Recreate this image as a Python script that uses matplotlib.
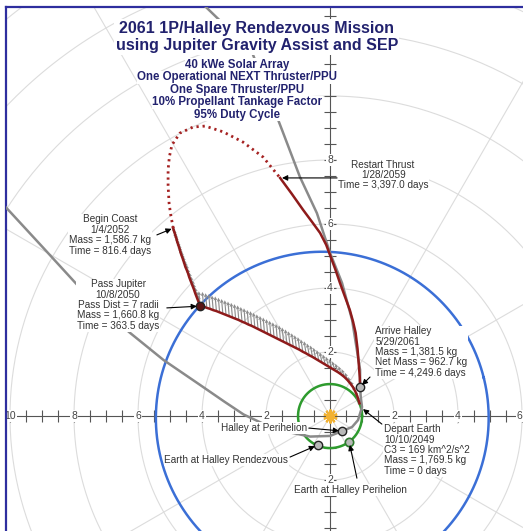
import numpy as np
import matplotlib
matplotlib.use("Agg")
import matplotlib.pyplot as plt

# ---- data (AU, sun at origin) ----
# first thrust arc, listed from Jupiter back to the Earth departure point
out_x = [-4.06, -3.95, -3.85, -3.75, -3.65, -3.55, -3.45, -3.35, -3.25, -3.15, -3.05, -2.95, -2.85,
         -2.75, -2.65, -2.55, -2.45, -2.35, -2.25, -2.15, -2.05, -1.95, -1.85, -1.75, -1.65, -1.55,
         -1.45, -1.35, -1.25, -1.15, -1.05, -0.95, -0.85, -0.75, -0.65, -0.55, -0.45, -0.35, -0.25,
         -0.15, -0.05, 0.05, 0.15, 0.25, 0.35, 0.45, 0.55, 0.64, 0.72, 0.79, 0.85, 0.89, 0.92]
out_y = [3.44, 3.42, 3.38, 3.35, 3.31, 3.28, 3.24, 3.20, 3.16, 3.12, 3.08, 3.04, 3.00,
         2.95, 2.91, 2.86, 2.82, 2.77, 2.72, 2.67, 2.62, 2.57, 2.52, 2.47, 2.42, 2.37,
         2.32, 2.27, 2.22, 2.17, 2.12, 2.07, 2.01, 1.96, 1.90, 1.85, 1.79, 1.73, 1.67,
         1.61, 1.55, 1.49, 1.43, 1.37, 1.30, 1.22, 1.12, 1.01, 0.90, 0.77, 0.63, 0.50, 0.40]
# thrust arrows on that arc (length AU, direction deg)
out_len = [0.46] * 26 + [0.45, 0.44, 0.43, 0.42, 0.41, 0.40, 0.39, 0.38, 0.37, 0.36, 0.35, 0.34,
                         0.33, 0.32, 0.31, 0.30, 0.29, 0.28, 0.27, 0.26, 0.25, 0.23, 0.21, 0.19,
                         0.17, 0.15, 0.12]
out_ang = [95] * 26 + [96, 96, 97, 97, 98, 98, 99, 99, 100, 100, 101, 101, 102, 103, 104, 105,
                       106, 107, 108, 109, 110, 111, 112, 113, 114, 115, 116]

# thrust arc after Jupiter flyby up to coast start
post_x = [-4.06, -4.11, -4.16, -4.21, -4.25, -4.30, -4.35, -4.40, -4.44, -4.48, -4.52, -4.55, -4.58,
          -4.61, -4.64, -4.67, -4.69, -4.72, -4.75, -4.78, -4.80, -4.83, -4.85, -4.88, -4.90]
post_y = [3.44, 3.57, 3.70, 3.83, 3.95, 4.08, 4.21, 4.34, 4.47, 4.57, 4.66, 4.76, 4.85,
          4.94, 5.02, 5.11, 5.19, 5.28, 5.37, 5.46, 5.55, 5.63, 5.71, 5.79, 5.87]
post_len = [0.34, 0.33, 0.32, 0.31, 0.30, 0.29, 0.28, 0.27, 0.26, 0.25, 0.24, 0.23, 0.22,
            0.21, 0.20, 0.19, 0.18, 0.17, 0.16, 0.15, 0.14, 0.13, 0.12, 0.11, 0.10]
post_ang = [100] * 25

# coast arc (dotted)
coast_x = [-4.90, -4.98, -5.03, -5.06, -5.06, -5.02, -4.94, -4.69, -4.28, -3.90, -3.34, -2.72, -2.09, -1.56]
coast_y = [5.87, 6.30, 6.66, 7.20, 7.69, 8.10, 8.47, 8.84, 9.03, 9.06, 8.88, 8.56, 8.09, 7.44]

# final thrust arc to Halley
fin_x = [-1.56, -1.20, -0.84, -0.55, -0.31, -0.12, 0.00, 0.16, 0.31, 0.47, 0.62, 0.72, 0.80, 0.86, 0.90, 0.93, 0.94]
fin_y = [7.44, 6.95, 6.44, 6.05, 5.72, 5.35, 5.03, 4.60, 4.16, 3.72, 3.31, 2.95, 2.60, 2.10, 1.60, 1.20, 0.90]

# comet Halley orbit (projected)
halley_x = [-10.2, -9.0, -7.9, -7.0, -6.25, -5.2, -4.1, -3.3, -2.7, -2.0, -1.3, -0.62, 0.0, 0.375,
            0.69, 0.875, 1.0, 0.96, 0.94, 0.94, 0.84, 0.69, 0.375, 0.0, -0.41, -0.94, -1.5, -2.45, -3.9]
halley_y = [6.6, 5.3, 4.1, 3.25, 2.6, 1.75, 1.0, 0.45, 0.05, -0.28, -0.5, -0.64, -0.62, -0.47,
            -0.34, -0.125, 0.28, 0.6, 0.9, 1.44, 2.06, 3.0, 4.16, 5.1, 6.34, 7.47, 8.94, 11.4, 12.8]

earth_r = 1.0
jup_a, jup_e, jup_peri = 5.2, 0.048, 14.0

title = "2061 1P/Halley Rendezvous Mission\nusing Jupiter Gravity Assist and SEP"
subtitle = ["40 kWe Solar Array", "One Operational NEXT Thruster/PPU", "One Spare Thruster/PPU",
            "10% Propellant Tankage Factor", "95% Duty Cycle"]

events = {
    "jupiter": (-4.06, 3.44),
    "arrive": (0.94, 0.90),
    "halley_peri": (0.375, -0.47),
    "earth_rdv": (-0.375, -0.90),
    "earth_peri": (0.60, -0.80),
}

plt.rcParams['font.family'] = ['Liberation Sans', 'DejaVu Sans']

fig = plt.figure(figsize=(5.23, 5.31), dpi=100)
ax = fig.add_axes([6 / 523, 0, 517 / 523, 524 / 531])
ax.set_xlim(-10.125, 6.03)
ax.set_ylim(-3.59, 12.78)
ax.set_xticks([])
ax.set_yticks([])
for s in ['right', 'bottom']:
    ax.spines[s].set_visible(False)
for s in ['left', 'top']:
    ax.spines[s].set_color('#2E2E9E')
    ax.spines[s].set_linewidth(1.6)

# polar grid
t = np.linspace(0, 2 * np.pi, 400)
for r in range(2, 18, 2):
    ax.plot(r * np.cos(t), r * np.sin(t), color='#DCDCDC', lw=0.8, zorder=0)
for a in range(30, 360, 30):
    if a % 90:
        ax.plot([0, 20 * np.cos(np.radians(a))], [0, 20 * np.sin(np.radians(a))],
                color='#DCDCDC', lw=0.8, zorder=0)

# axes with ticks
ax.axhline(0, color='#555555', lw=0.8, zorder=1)
ax.axvline(0, color='#555555', lw=0.8, zorder=1)
ticks = np.arange(-10, 13, 0.5)
ticks = ticks[ticks != 0]
ax.plot(ticks, np.zeros_like(ticks), ls='none', marker='|', ms=8, mew=0.8, color='#555555', zorder=1)
ax.plot(np.zeros_like(ticks), ticks, ls='none', marker='_', ms=8, mew=0.8, color='#555555', zorder=1)
for v in [-10, -8, -6, -4, -2, 2, 4, 6]:
    ax.text(min(v, 5.92), 0, str(abs(v)), ha='center', va='center', fontsize=7.5, color='#444444',
            zorder=2, bbox=dict(fc='white', ec='none', pad=0.5))
for v in [-2, 2, 4, 6, 8]:
    ax.text(0, v, str(abs(v)), ha='center', va='center', fontsize=7.5, color='#444444', zorder=2,
            bbox=dict(fc='white', ec='none', pad=0.5))

# orbits
ax.plot(earth_r * np.cos(t), earth_r * np.sin(t), color='#2E9B2E', lw=1.8, zorder=3)
nu = t
rj = jup_a * (1 - jup_e ** 2) / (1 + jup_e * np.cos(nu))
ax.plot(rj * np.cos(nu + np.radians(jup_peri)), rj * np.sin(nu + np.radians(jup_peri)),
        color='#3B6FD6', lw=1.8, zorder=3)
ax.plot(halley_x, halley_y, color='#8A8A8A', lw=1.8, zorder=3)

# sun
ax.plot(0, 0, marker=(10, 2, 0), ms=10, mew=1.5, color='#F2B233', zorder=4)
ax.plot(0, 0, marker='o', ms=5, color='#F2B233', zorder=4)

# thrust arrows
def thrust(xs, ys, ls, angs):
    u = np.array(ls) * np.cos(np.radians(angs))
    v = np.array(ls) * np.sin(np.radians(angs))
    ax.quiver(xs, ys, u, v, angles='xy', scale_units='xy', scale=1, color='#8C8C8C',
              width=0.0022, headwidth=3.5, headlength=3.5, headaxislength=3, zorder=4)

thrust(out_x, out_y, out_len, out_ang)
thrust(post_x, post_y, post_len, post_ang)

# trajectory
red = '#8E1B1B'
ax.plot(out_x, out_y, color=red, lw=1.8, zorder=5)
ax.plot(post_x, post_y, color=red, lw=1.8, zorder=5)
ax.plot(coast_x, coast_y, color='#A52222', lw=2.0, ls=(0, (0.8, 1.4)), zorder=5)
ax.plot(fin_x, fin_y, color=red, lw=1.8, zorder=5)

# event markers
ax.plot(*events["jupiter"], 'o', ms=6, mfc='#5A1515', mec='#222222', mew=1, zorder=6)
for k in ["arrive", "halley_peri", "earth_rdv"]:
    ax.plot(*events[k], 'o', ms=6, mfc='#B8B8B8', mec='#222222', mew=1, zorder=6)
ax.plot(*events["earth_peri"], 'o', ms=6, mfc='#B8B8B8', mec='#2E7B2E', mew=1.2, zorder=6)

# annotations
tc = '#333333'
afs = 7.2
def note(txt, x, y, ha='center'):
    ax.text(x, y, txt, ha=ha, va='center', fontsize=afs, color=tc, linespacing=1.05, zorder=7,
            bbox=dict(fc='white', ec='none', pad=0.5))

def arrow(x0, y0, x1, y1):
    ax.annotate('', xy=(x1, y1), xytext=(x0, y0), zorder=8,
                arrowprops=dict(arrowstyle='-|>', color='black', lw=0.8, mutation_scale=8,
                                shrinkA=0, shrinkB=0))

note("Begin Coast\n1/4/2052\nMass = 1,586.7 kg\nTime = 816.4 days", -6.875, 5.66)
arrow(-5.41, 5.66, -4.95, 5.85)
note("Pass Jupiter\n10/8/2050\nPass Dist = 7 radii\nMass = 1,660.8 kg\nTime = 363.5 days", -6.625, 3.47)
arrow(-5.1, 3.38, -4.16, 3.43)
note("Restart Thrust\n1/28/2059\nTime = 3,397.0 days", 1.66, 7.53)
arrow(0.22, 7.44, -1.50, 7.44)
note("Arrive Halley\n5/29/2061\nMass = 1,381.5 kg\nNet Mass = 962.7 kg\nTime = 4,249.6 days", 1.41, 2.0, ha='left')
arrow(1.25, 1.22, 1.0, 0.97)
note("Depart Earth\n10/10/2049\nC3 = 169 km^2/s^2\nMass = 1,769.5 kg\nTime = 0 days", 1.69, -1.06, ha='left')
arrow(1.62, -0.25, 1.03, 0.22)
note("Halley at Perihelion", -0.72, -0.375, ha='right')
arrow(-0.66, -0.375, 0.28, -0.46)
note("Earth at Halley Rendezvous", -1.31, -1.375, ha='right')
arrow(-1.25, -1.28, -0.47, -0.94)
note("Earth at Halley Perihelion", 0.625, -2.31)
arrow(0.84, -1.94, 0.62, -0.90)

# title block
navy = '#22226E'
ax.text(-2.29, 11.84, title, ha='center', va='center', fontsize=11.5, fontweight='bold', color=navy,
        linespacing=1.2, zorder=9, bbox=dict(fc='white', ec='none', pad=1))
for i, s in enumerate(subtitle):
    ax.text(-2.9, 10.97 - i * 0.39, s, ha='center', va='center', fontsize=8.3, fontweight='bold',
            color=navy, zorder=9, bbox=dict(fc='white', ec='none', pad=0.3))

fig.savefig('out.png', dpi=100)
